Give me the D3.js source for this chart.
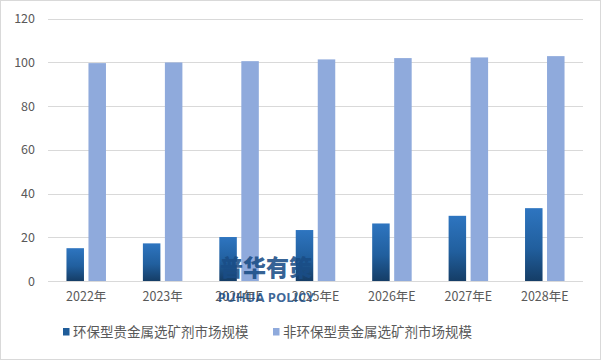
<!DOCTYPE html>
<html><head><meta charset="utf-8">
<script src="https://cdn.jsdelivr.net/npm/d3@7"></script>
<style>body{margin:0;background:#fff}svg{display:block}</style>
</head><body><div id="c"></div>
<script>
const categories = ["2022年","2023年","2024年E","2025年E","2026年E","2027年E","2028年E"];
const greenValues = [15.0, 17.2, 20.1, 23.3, 26.3, 29.8, 33.3];
const otherValues = [99.6, 99.9, 100.5, 101.3, 101.9, 102.2, 102.8];
const seriesNames = ["环保型贵金属选矿剂市场规模","非环保型贵金属选矿剂市场规模"];
const yTicks = [0,20,40,60,80,100,120];

const W=601,H=360;
const font='"Noto Sans CJK SC","Noto Sans",sans-serif';
const svg=d3.select("#c").append("svg").attr("width",W).attr("height",H);
svg.append("rect").attr("x",0.5).attr("y",0.5).attr("width",W-1).attr("height",H-1).attr("fill","#fff").attr("stroke","#d9d9d9");

const defs=svg.append("defs");
const g1=defs.append("linearGradient").attr("id","gd").attr("x1",0).attr("y1",0).attr("x2",0).attr("y2",1);
g1.append("stop").attr("offset","0%").attr("stop-color","#2e75c0");
g1.append("stop").attr("offset","55%").attr("stop-color","#215f9e");
g1.append("stop").attr("offset","100%").attr("stop-color","#153d66");

const x=d3.scaleBand().domain(categories).range([48,583]);
const y=d3.scaleLinear().domain([0,120]).range([281,18.5]);

// grid
svg.append("g").selectAll("line").data(yTicks).join("line")
 .attr("x1",48).attr("x2",583).attr("y1",d=>Math.round(y(d))+0.5).attr("y2",d=>Math.round(y(d))+0.5)
 .attr("stroke","#d9d9d9").attr("stroke-width",1);

const yAxis=svg.append("g").attr("transform","translate(48,0)")
 .call(d3.axisLeft(y).tickValues(yTicks).tickSize(0).tickPadding(13));
yAxis.select(".domain").remove();
yAxis.selectAll("text").attr("fill","#595959").style("font-family",font).style("font-size","12.5px");

const xAxis=svg.append("g").attr("transform","translate(0,281)")
 .call(d3.axisBottom(x).tickSize(0).tickPadding(11));
xAxis.select(".domain").remove();
xAxis.selectAll("text").attr("fill","#595959").style("font-family",font).style("font-size","12.5px");

const bw=17.5, gap=4.5;
svg.append("g").selectAll("rect").data(categories).join("rect")
 .attr("x",(d)=>x(d)+x.bandwidth()/2-gap/2-bw)
 .attr("y",(d,i)=>y(greenValues[i])).attr("width",bw)
 .attr("height",(d,i)=>y(0)-y(greenValues[i])).attr("fill","url(#gd)");
svg.append("g").selectAll("rect").data(categories).join("rect")
 .attr("x",(d)=>x(d)+x.bandwidth()/2+gap/2)
 .attr("y",(d,i)=>y(otherValues[i])).attr("width",bw)
 .attr("height",(d,i)=>y(0)-y(otherValues[i])).attr("fill","#8faadc");

// legend
const leg=[{x:63,c:"#1f5c99",t:seriesNames[0]},{x:273,c:"#8faadc",t:seriesNames[1]}];
const lg=svg.append("g");
leg.forEach(l=>{
 lg.append("rect").attr("x",l.x).attr("y",328).attr("width",6.5).attr("height",7.5).attr("fill",l.c);
 lg.append("text").attr("x",l.x+10).attr("y",337).attr("fill","#595959")
  .style("font-family",font).style("font-size","13.5px").text(l.t);
});

// watermark
svg.append("text").attr("x",266).attr("y",276).attr("text-anchor","middle")
 .attr("fill","#1a4d86").attr("fill-opacity",0.9).style("font-family",font).style("font-weight","900")
 .style("font-size","23px").text("普华有策");
svg.append("text").attr("x",266).attr("y",302).attr("text-anchor","middle")
 .attr("fill","#1a4d86").attr("fill-opacity",0.85).style("font-family",'"Open Sans",sans-serif').style("font-weight","700")
 .style("font-size","13px").text("PUHUA POLICY");
</script></body></html>
